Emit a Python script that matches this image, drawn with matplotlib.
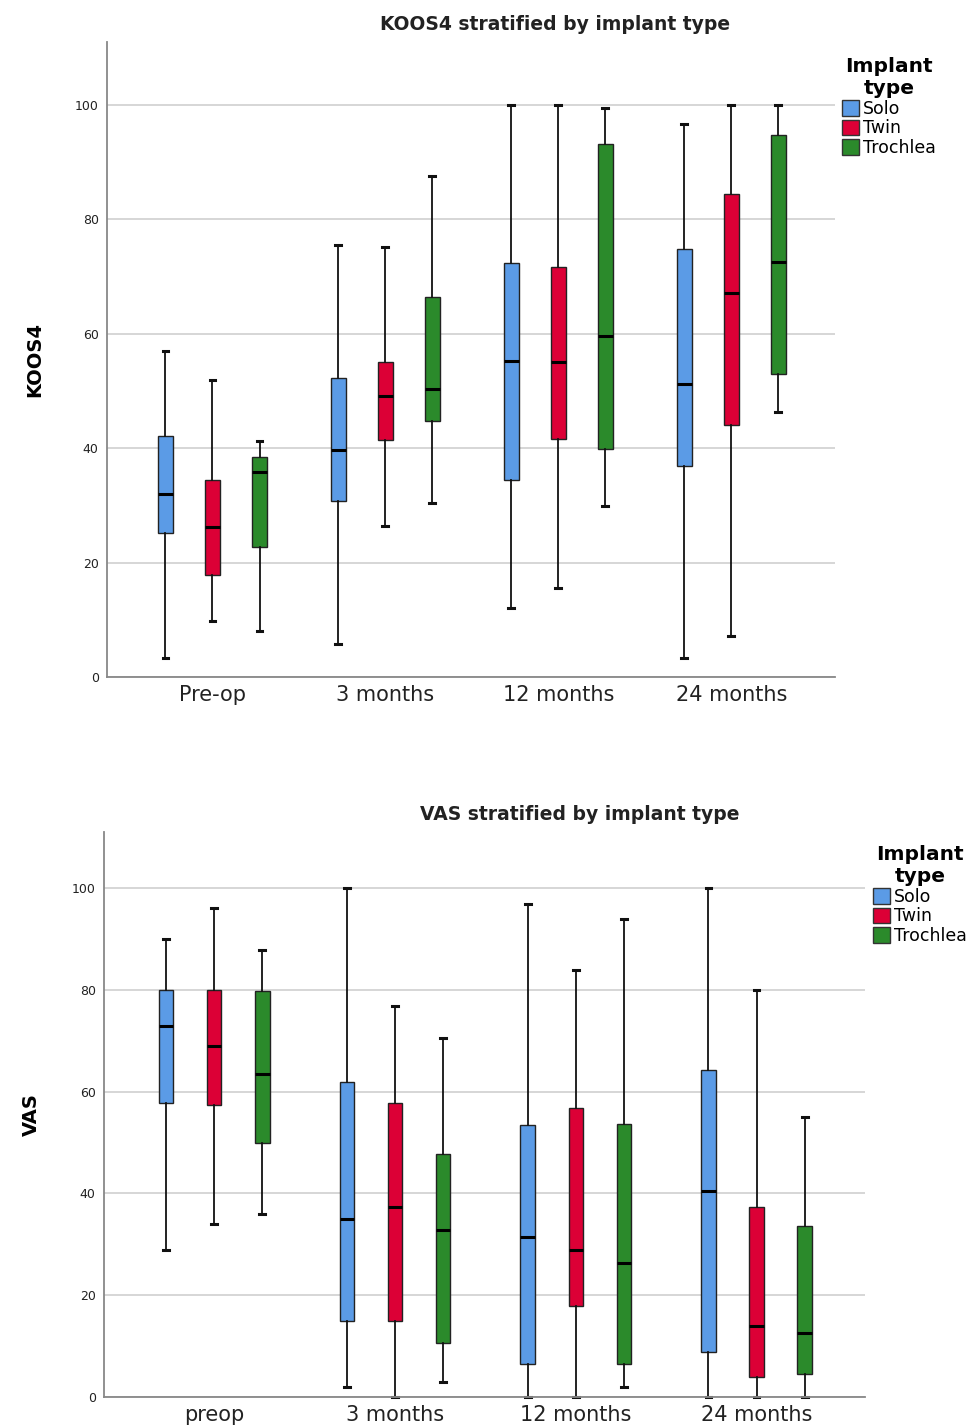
import matplotlib
matplotlib.use("Agg")
import matplotlib.pyplot as plt
from matplotlib.patches import Patch

# ── data (lo whisker, Q1, median, Q3, hi whisker) ──────
TIMES_KOOS = ["Pre-op", "3 months", "12 months", "24 months"]
TIMES_VAS = ["preop", "3 months", "12 months", "24 months"]
IMPLANTS = ["Solo", "Twin", "Trochlea"]
COLORS = ["#5b9be6", "#dc0036", "#2b8a2b"]

koos_solo = [[3.4, 25.2, 32.0, 42.2, 57.0],
             [5.7, 30.8, 39.7, 52.2, 75.6],
             [12.1, 34.5, 55.3, 72.4, 100.0],
             [3.3, 36.9, 51.2, 74.9, 96.7]]
koos_twin = [[9.8, 17.8, 26.3, 34.5, 52.0],
             [26.4, 41.5, 49.1, 55.1, 75.1],
             [15.5, 41.6, 55.0, 71.6, 100.0],
             [7.1, 44.0, 67.1, 84.5, 100.0]]
koos_trochlea = [[8.1, 22.7, 35.8, 38.4, 41.3],
                 [30.5, 44.7, 50.4, 66.5, 87.5],
                 [29.9, 39.9, 59.6, 93.2, 99.4],
                 [46.3, 53.0, 72.6, 94.7, 100.0]]

vas_solo = [[28.9, 57.8, 72.9, 79.9, 89.9],
            [2.0, 15.0, 34.9, 61.9, 100.0],
            [0.0, 6.4, 31.5, 53.5, 96.8],
            [0.0, 8.9, 40.4, 64.3, 100.0]]
vas_twin = [[33.9, 57.4, 69.0, 80.0, 96.0],
            [0.0, 15.0, 37.4, 57.8, 76.9],
            [0.0, 17.9, 28.9, 56.8, 83.9],
            [0.0, 4.0, 14.0, 37.4, 79.9]]
vas_trochlea = [[36.0, 49.9, 63.5, 79.7, 87.9],
                [3.0, 10.6, 32.9, 47.8, 70.6],
                [2.0, 6.4, 26.4, 53.6, 94.0],
                [0.0, 4.5, 12.5, 33.5, 55.0]]

W, H = 966, 1427
fig = plt.figure(figsize=(W / 100, H / 100), dpi=100)


def px_axes(left, top, right, bottom):
    return fig.add_axes([left / W, 1 - bottom / H, (right - left) / W, (bottom - top) / H])


def draw(ax, series, times, offset, width):
    for k, (data, col) in enumerate(zip(series, COLORS)):
        stats = [dict(whislo=s[0], q1=s[1], med=s[2], q3=s[3], whishi=s[4], fliers=[])
                 for s in data]
        pos = [i + (k - 1) * offset for i in range(len(times))]
        art = ax.bxp(stats, positions=pos, widths=width, patch_artist=True,
                     capwidths=width * 0.4, manage_ticks=False,
                     boxprops=dict(facecolor=col, edgecolor="#222222", linewidth=1.0),
                     medianprops=dict(color="black", linewidth=2.2),
                     whiskerprops=dict(color="#111111", linewidth=1.3),
                     capprops=dict(color="#111111", linewidth=2.2))
        for c in art["caps"]:
            c.set_clip_on(False)
    ax.set_xticks(range(len(times)))
    ax.set_xticklabels(times, fontsize=15, color="#222222")
    ax.set_yticks([0, 20, 40, 60, 80, 100])
    ax.tick_params(axis="y", labelsize=9, length=0, pad=6, colors="#222222")
    ax.tick_params(axis="x", length=0, pad=6)
    ax.set_ylim(0, 111)
    ax.set_xlim(-0.61, 3.60)
    ax.yaxis.grid(True, color="#d0d0d0", linewidth=1.2)
    ax.set_axisbelow(True)
    for s in ["top", "right"]:
        ax.spines[s].set_visible(False)
    for s in ["left", "bottom"]:
        ax.spines[s].set_color("#888888")
        ax.spines[s].set_linewidth(1.3)


def legend(x, y):
    handles = [Patch(facecolor=c, edgecolor="#333333", label=n) for n, c in zip(IMPLANTS, COLORS)]
    leg = fig.legend(handles=handles, loc="upper left", bbox_to_anchor=(x / W, 1 - y / H),
                     frameon=False, fontsize=12.5, handlelength=1.0, handleheight=1.0,
                     handletextpad=0.2, labelspacing=0.1, borderaxespad=0,
                     title="Implant\ntype", title_fontproperties=dict(weight="bold", size=14.5))
    leg._legend_box.align = "center"
    leg.get_title().set_multialignment("center")


# ── KOOS4 ──────────────────────────────────────────────
ax1 = px_axes(107, 42, 835, 677)
draw(ax1, [koos_solo, koos_twin, koos_trochlea], TIMES_KOOS, 0.272, 0.085)
ax1.set_ylabel("KOOS4", fontsize=14, fontweight="bold", labelpad=22)
fig.text(555 / W, 1 - 25 / H, "KOOS4 stratified by implant type", ha="center", va="center",
         fontsize=13.5, fontweight="bold", color="#222222")
legend(835, 50)

# ── VAS ────────────────────────────────────────────────
ax2 = px_axes(104, 832, 865, 1397)
draw(ax2, [vas_solo, vas_twin, vas_trochlea], TIMES_VAS, 0.266, 0.08)
ax2.set_ylabel("VAS", fontsize=14, fontweight="bold", labelpad=22)
fig.text(580 / W, 1 - 815 / H, "VAS stratified by implant type", ha="center", va="center",
         fontsize=13.5, fontweight="bold", color="#222222")
legend(866, 838)

fig.savefig("out.png", dpi=100)
